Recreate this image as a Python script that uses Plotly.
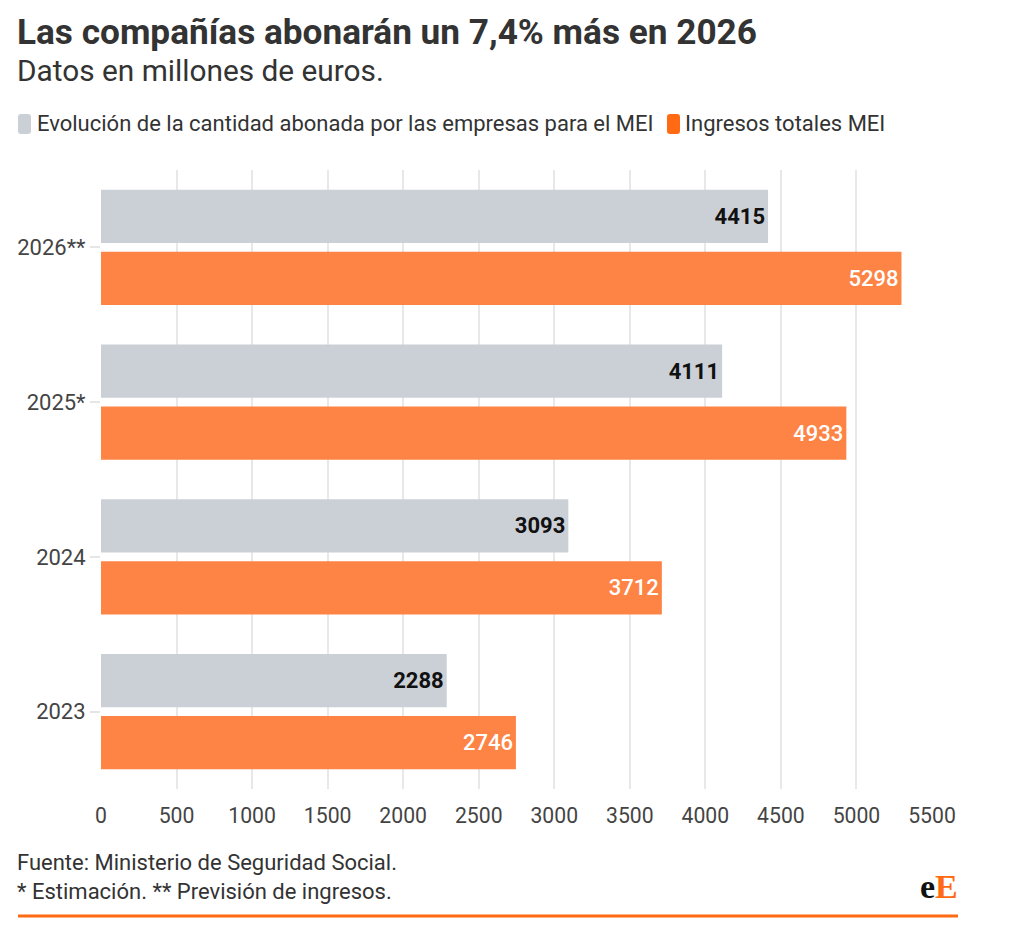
import plotly.graph_objects as go

years = ["2023", "2024", "2025*", "2026**"]
empresas = [2288, 3093, 4111, 4415]
ingresos = [2746, 3712, 4933, 5298]
x_ticks = [0, 500, 1000, 1500, 2000, 2500, 3000, 3500, 4000, 4500, 5000, 5500]

name_emp = "Evolución de la cantidad abonada por las empresas para el MEI"
name_ing = "Ingresos totales MEI"

GREY = "#cbd0d6"
ORANGE = "#fe8445"
FONT = "Roboto"

L, T, W, H = 101, 170, 831, 619  # plot area in px


def px_x(p):
    return (p - L) / W


def px_y(p):
    return (T + H - p) / H


fig = go.Figure()
fig.add_trace(go.Bar(
    y=years, x=ingresos, name=name_ing, orientation="h",
    marker=dict(color=ORANGE, line=dict(width=0)),
    text=[str(v) for v in ingresos], textposition="inside", insidetextanchor="end",
    textfont=dict(family=FONT, size=22, color="white", weight=500),
    showlegend=False,
))
fig.add_trace(go.Bar(
    y=years, x=empresas, name=name_emp, orientation="h",
    marker=dict(color=GREY, line=dict(width=0)),
    text=[str(v) for v in empresas], textposition="inside", insidetextanchor="end",
    textfont=dict(family=FONT, size=22, color="#111111", weight="bold"),
    showlegend=False,
))

annotations = [
    dict(text="<b>Las compañías abonarán un 7,4% más en 2026</b>", x=px_x(15), y=px_y(32),
         font=dict(family=FONT, size=35.2, color="#333333")),
    dict(text="Datos en millones de euros.", x=px_x(15), y=px_y(70),
         font=dict(family=FONT, size=29.8, color="#333333")),
    dict(text=name_emp, x=px_x(35), y=px_y(124),
         font=dict(family=FONT, size=22, color="#333333")),
    dict(text=name_ing, x=px_x(683), y=px_y(124),
         font=dict(family=FONT, size=22, color="#333333")),
    dict(text="Fuente: Ministerio de Seguridad Social.", x=px_x(15), y=px_y(862),
         font=dict(family=FONT, size=22, color="#333333")),
    dict(text="* Estimación. ** Previsión de ingresos.", x=px_x(15), y=px_y(891),
         font=dict(family=FONT, size=22, color="#333333")),
    dict(text="<b>e<span style='color:#ff6a13'>E</span></b>", x=px_x(960), y=px_y(886),
         xanchor="right", font=dict(family="Liberation Serif", size=34, color="#111111")),
]
for a in annotations:
    a.setdefault("xanchor", "left")
    a.update(xref="paper", yref="paper", yanchor="middle", showarrow=False)


def rounded_rect(x0, y0, x1, y1, r=3):
    X = px_x
    Y = px_y
    return (f"M {X(x0 + r)} {Y(y0)} L {X(x1 - r)} {Y(y0)} Q {X(x1)} {Y(y0)} {X(x1)} {Y(y0 + r)} "
            f"L {X(x1)} {Y(y1 - r)} Q {X(x1)} {Y(y1)} {X(x1 - r)} {Y(y1)} "
            f"L {X(x0 + r)} {Y(y1)} Q {X(x0)} {Y(y1)} {X(x0)} {Y(y1 - r)} "
            f"L {X(x0)} {Y(y0 + r)} Q {X(x0)} {Y(y0)} {X(x0 + r)} {Y(y0)} Z")


shapes = [
    dict(type="path", xref="paper", yref="paper", path=rounded_rect(18, 114, 31, 134),
         fillcolor=GREY, line=dict(width=0)),
    dict(type="path", xref="paper", yref="paper", path=rounded_rect(667, 114, 680, 134),
         fillcolor="#ff6a13", line=dict(width=0)),
    dict(type="line", xref="paper", yref="paper", x0=px_x(18), x1=px_x(958),
         y0=px_y(916), y1=px_y(916), line=dict(color="#ff6a13", width=3)),
]

fig.update_layout(
    width=1024, height=934,
    margin=dict(l=L, r=1024 - L - W, t=T, b=934 - T - H, autoexpand=False),
    paper_bgcolor="white", plot_bgcolor="white",
    barmode="group", bargap=0.198, bargroupgap=0.145,
    font=dict(family=FONT, size=21, color="#444444"),
    showlegend=False,
    xaxis=dict(range=[0, 5500], tickvals=x_ticks, ticktext=[str(t) for t in x_ticks],
               showgrid=True, gridcolor="#e8e8e8", gridwidth=2, zeroline=False,
               showline=False, ticks="outside", ticklen=8, tickcolor="rgba(0,0,0,0)",
               tickfont=dict(family=FONT, size=21.2, color="#444444"),
               fixedrange=True),
    yaxis=dict(categoryorder="array", categoryarray=years, showgrid=False,
               ticks="outside", ticklen=10, tickcolor="#e6e6e6", tickwidth=2,
               showline=False, zeroline=False,
               tickfont=dict(family=FONT, size=22, color="#444444")),
    annotations=annotations,
    shapes=shapes,
)

fig.write_html(
    "out.html",
    config={"displayModeBar": False},
    post_script="document.body.style.margin='0';document.body.style.padding='0';"
                "document.body.style.overflow='hidden';",
)
